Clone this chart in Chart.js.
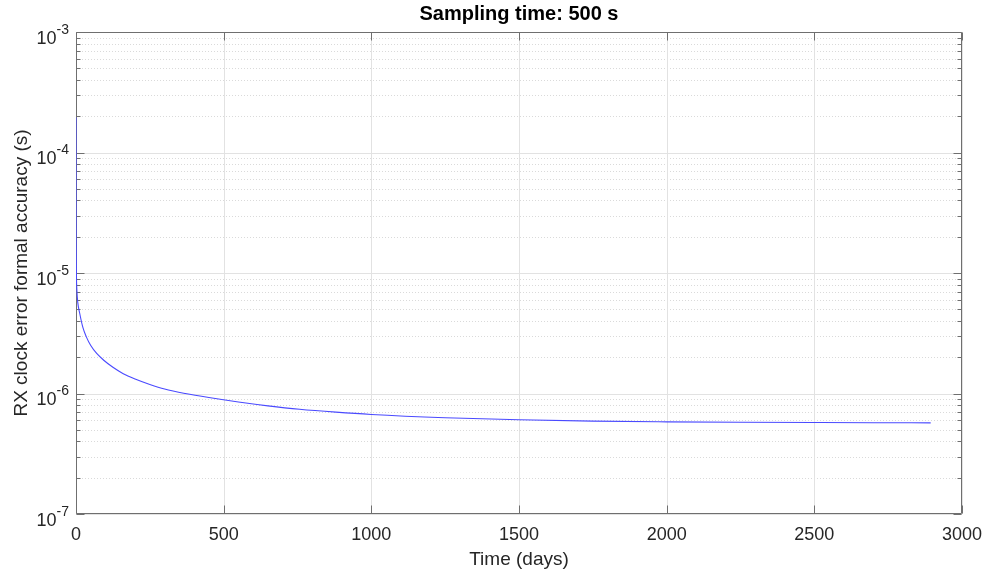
<!DOCTYPE html>
<html>
<head>
<meta charset="utf-8">
<script src="https://cdn.jsdelivr.net/npm/chart.js@4/dist/chart.umd.min.js"></script>
<style>
  html, body { margin: 0; padding: 0; background: #ffffff; }
  #wrap { width: 986px; height: 577px; }
</style>
</head>
<body>
<div id="wrap"><canvas id="c" width="986" height="577"></canvas></div>
<script>
// Elapsed time since the start of the run (days)
const days = [0.006, 0.1, 0.5, 1.5, 3, 6, 12, 23, 35, 50, 70, 95, 125, 160, 200, 250, 300,
              370, 450, 550, 650, 757, 880, 1000, 1250, 1500, 1750, 2000, 2250, 2500, 2700, 2894];
// Formal accuracy of the receiver clock error estimate (s)
const accuracy = [1.95e-4, 4.5e-5, 1.8e-5, 9.5e-6, 7.2e-6, 5.7e-6, 4.7e-6, 3.55e-6, 2.95e-6,
                  2.5e-6, 2.15e-6, 1.88e-6, 1.65e-6, 1.46e-6, 1.32e-6, 1.19e-6, 1.09e-6,
                  1.0e-6, 9.25e-7, 8.5e-7, 7.9e-7, 7.4e-7, 7.0e-7, 6.7e-7, 6.3e-7, 6.05e-7,
                  5.9e-7, 5.82e-7, 5.77e-7, 5.74e-7, 5.72e-7, 5.71e-7];

const xTicks = [0, 500, 1000, 1500, 2000, 2500, 3000];
const yDecades = [-7, -6, -5, -4, -3];
const titleText = 'Sampling time: 500 s';
const xLabel = 'Time (days)';
const yLabel = 'RX clock error formal accuracy (s)';

const FONT = '"Liberation Sans", Arial, Helvetica, sans-serif';
const TEXT = '#262626';
const AXIS = '#6f6f6f';

// Grid, box and inward ticks sit under the curve; labels and titles are drawn last
const axesPlugin = {
  id: 'matlabAxes',
  beforeDatasetsDraw(chart) {
    const { ctx, chartArea: { left, right, top, bottom }, scales: { x, y } } = chart;
    ctx.save();
    ctx.lineWidth = 1;

    // dotted minor lines on the log axis
    ctx.strokeStyle = '#dadada';
    ctx.setLineDash([1, 2]);
    for (let i = 0; i < yDecades.length - 1; i++) {
      for (let m = 2; m <= 9; m++) {
        const py = Math.round(y.getPixelForValue(m * Math.pow(10, yDecades[i]))) + 0.5;
        ctx.beginPath(); ctx.moveTo(left, py); ctx.lineTo(right, py); ctx.stroke();
      }
    }
    ctx.setLineDash([]);

    // solid major lines
    ctx.strokeStyle = '#e2e2e2';
    yDecades.forEach(d => {
      const py = Math.round(y.getPixelForValue(Math.pow(10, d))) + 0.5;
      ctx.beginPath(); ctx.moveTo(left, py); ctx.lineTo(right, py); ctx.stroke();
    });
    xTicks.forEach(v => {
      const px = Math.round(x.getPixelForValue(v)) + 0.5;
      ctx.beginPath(); ctx.moveTo(px, top); ctx.lineTo(px, bottom); ctx.stroke();
    });

    // box
    ctx.strokeStyle = AXIS;
    const L = left + 0.5, R = right - 0.5, T = top + 0.5, B = bottom - 0.5;
    ctx.beginPath();
    ctx.moveTo(L, T); ctx.lineTo(R, T); ctx.lineTo(R, B); ctx.lineTo(L, B); ctx.closePath();
    ctx.stroke();

    // inward tick marks on all four sides
    const major = 8, minor = 4;
    ctx.beginPath();
    yDecades.forEach((d, i) => {
      const py = Math.round(y.getPixelForValue(Math.pow(10, d))) + 0.5;
      ctx.moveTo(L, py); ctx.lineTo(L + major, py);
      ctx.moveTo(R, py); ctx.lineTo(R - major, py);
      if (i < yDecades.length - 1) {
        for (let m = 2; m <= 9; m++) {
          const q = Math.round(y.getPixelForValue(m * Math.pow(10, d))) + 0.5;
          ctx.moveTo(L, q); ctx.lineTo(L + minor, q);
          ctx.moveTo(R, q); ctx.lineTo(R - minor, q);
        }
      }
    });
    xTicks.forEach(v => {
      const px = Math.round(x.getPixelForValue(v)) + 0.5;
      ctx.moveTo(px, B); ctx.lineTo(px, B - major);
      ctx.moveTo(px, T); ctx.lineTo(px, T + major);
    });
    ctx.stroke();
    ctx.restore();
  },
  afterDatasetsDraw(chart) {
    const { ctx, chartArea: { left, right, top, bottom }, scales: { y } } = chart;
    ctx.save();

    // title, centred over the plot box
    ctx.fillStyle = '#000000';
    ctx.textAlign = 'center';
    ctx.textBaseline = 'alphabetic';
    ctx.font = 'bold 20px ' + FONT;
    ctx.fillText(titleText, (left + right) / 2, 20);

    // 10^n labels on the log axis
    ctx.fillStyle = TEXT;
    ctx.textAlign = 'left';
    const xRight = 69;
    yDecades.forEach(d => {
      const py = y.getPixelForValue(Math.pow(10, d));
      const exp = String(d);
      ctx.font = '14px ' + FONT;
      const wExp = ctx.measureText(exp).width;
      ctx.fillText(exp, xRight - wExp, py + 1.5);
      ctx.font = '18px ' + FONT;
      const wBase = ctx.measureText('10').width;
      ctx.fillText('10', xRight - wExp - wBase, py + 11.5);
    });

    // axis titles
    ctx.font = '19px ' + FONT;
    ctx.textAlign = 'center';
    ctx.fillText(xLabel, (left + right) / 2, 565);
    ctx.save();
    ctx.translate(27, (top + bottom) / 2);
    ctx.rotate(-Math.PI / 2);
    ctx.fillText(yLabel, 0, 0);
    ctx.restore();
    ctx.restore();
  }
};

const points = days.map((d, i) => ({ x: d, y: accuracy[i] }));

new Chart(document.getElementById('c'), {
  type: 'line',
  data: {
    datasets: [{
      data: points,
      borderColor: '#4a4aff',
      borderWidth: 1.1,
      pointRadius: 0,
      fill: false,
      cubicInterpolationMode: 'monotone'
    }]
  },
  options: {
    responsive: false,
    animation: false,
    devicePixelRatio: 1,
    layout: { padding: { left: 0, right: 24, top: 32, bottom: 0 } },
    plugins: {
      legend: { display: false },
      tooltip: { enabled: false },
      title: { display: false }
    },
    scales: {
      x: {
        type: 'linear',
        min: 0,
        max: 3000,
        afterBuildTicks: s => { s.ticks = xTicks.map(v => ({ value: v })); },
        afterFit: s => { s.height = 63; s.paddingLeft = 0; s.paddingRight = 0; },
        ticks: {
          color: TEXT,
          font: { family: FONT, size: 18 },
          padding: 10,
          maxRotation: 0,
          autoSkip: false,
          callback: v => String(v)
        },
        grid: { display: false, drawTicks: false },
        border: { display: false }
      },
      y: {
        type: 'logarithmic',
        min: 1e-7,
        max: 1e-3,
        afterFit: s => { s.width = 76; },
        ticks: { display: false },
        grid: { display: false, drawTicks: false },
        border: { display: false }
      }
    }
  },
  plugins: [axesPlugin]
});
</script>
</body>
</html>
